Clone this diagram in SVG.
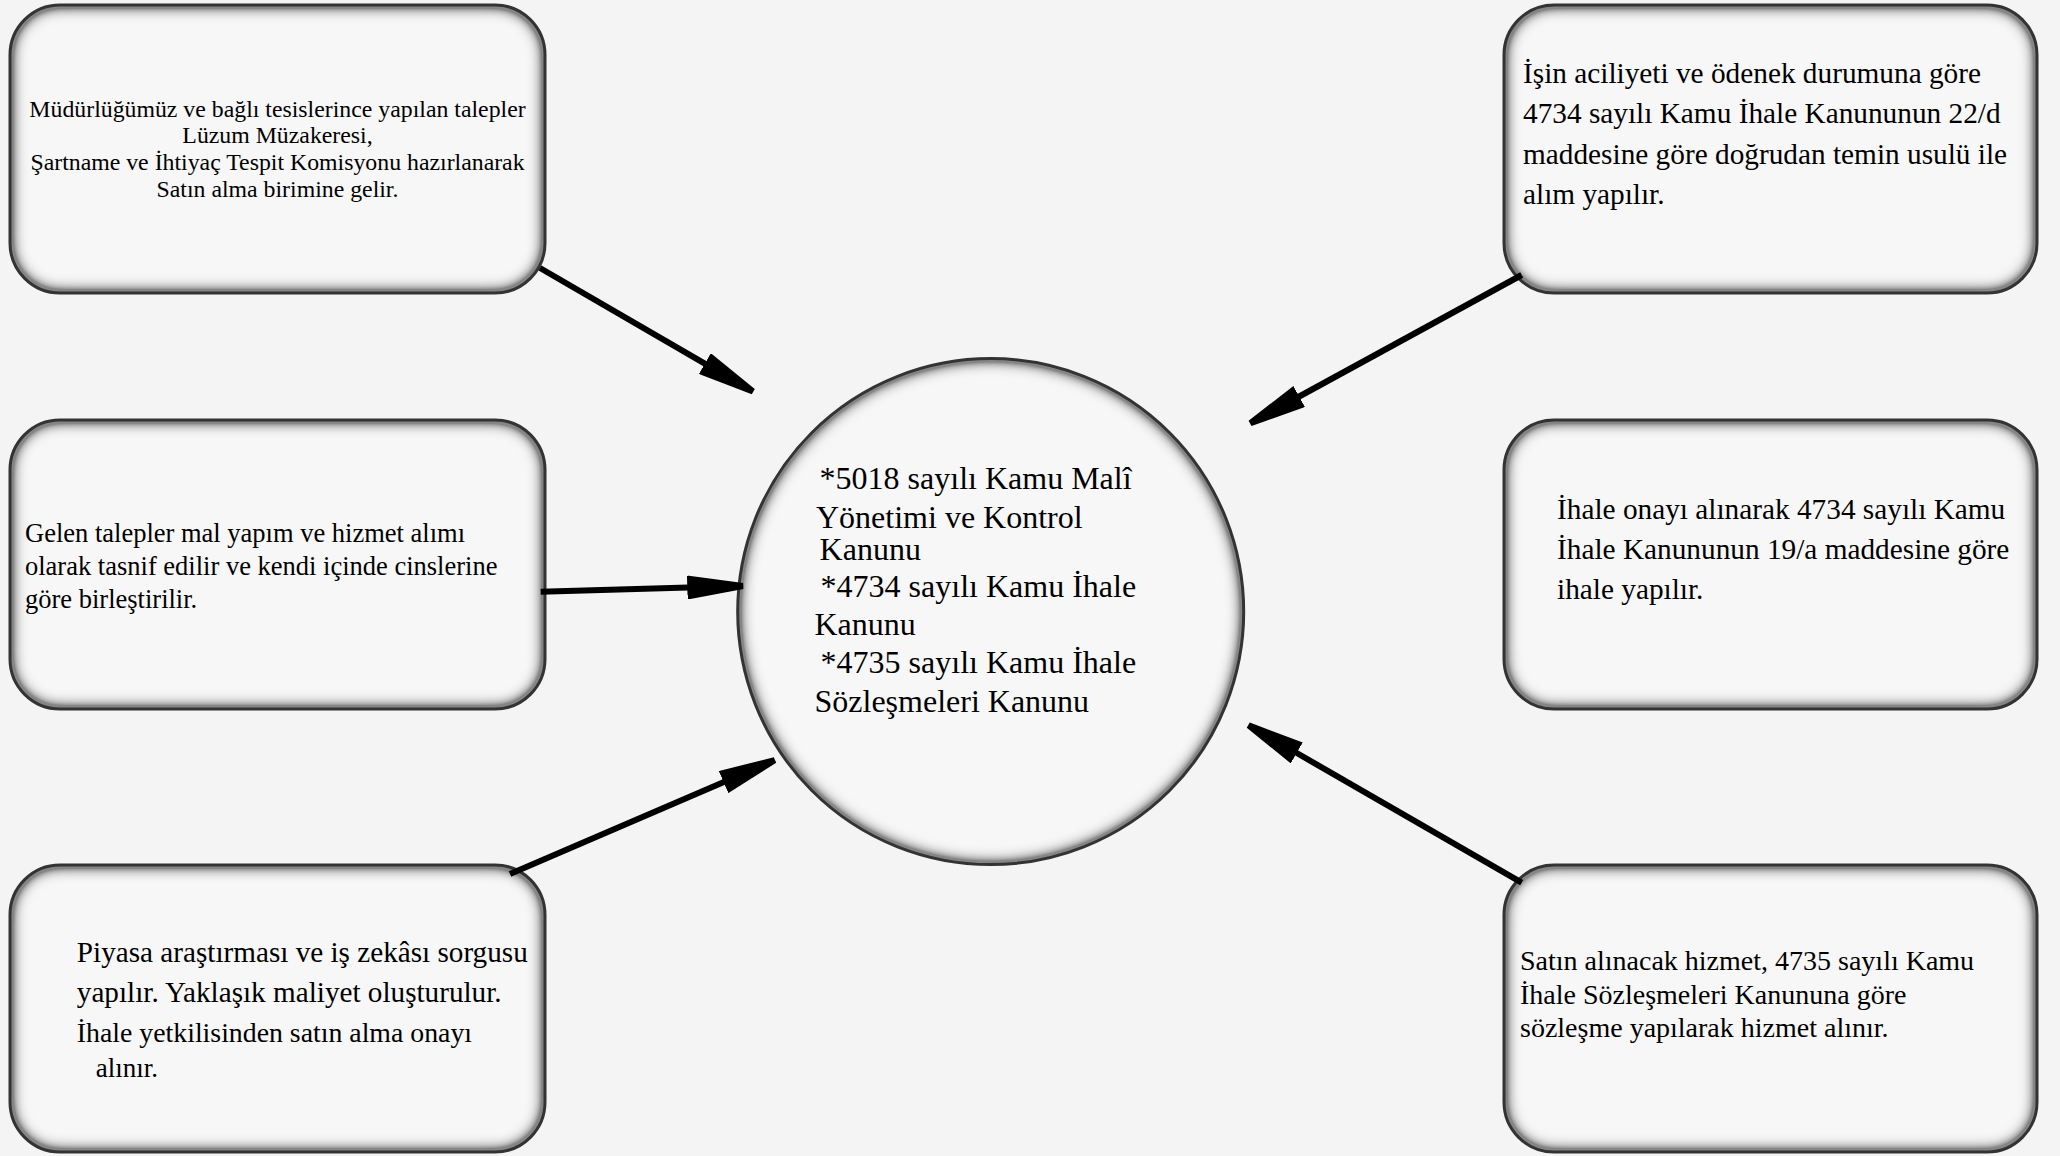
<svg xmlns="http://www.w3.org/2000/svg" width="2060" height="1156" viewBox="0 0 2060 1156">
  <style>
    .bg { fill: #f4f4f4; }
    .fill { fill: #f7f7f7; }
    .line { fill: none; stroke: #333333; stroke-width: 3; }
    .t { font-family: "Liberation Serif", "Times New Roman", serif; fill: #000; }
    .conn { stroke: #000; stroke-width: 6; fill: none; marker-end: url(#head); }
  </style>
  <defs>
    <filter id="inset" x="-5%" y="-5%" width="110%" height="110%">
      <feGaussianBlur in="SourceAlpha" stdDeviation="8" result="blur"/>
      <feComposite in="SourceAlpha" in2="blur" operator="arithmetic" k2="3" k3="-3" result="inv"/>
      <feFlood flood-color="#000" flood-opacity="0.75" result="col"/>
      <feComposite in="col" in2="inv" operator="in" result="shadow"/>
      <feMerge>
        <feMergeNode in="SourceGraphic"/>
        <feMergeNode in="shadow"/>
      </feMerge>
    </filter>
    <marker id="head" markerUnits="userSpaceOnUse" markerWidth="57" markerHeight="24" viewBox="0 0 57 24" refX="1" refY="12" orient="auto">
      <path d="M0,0 L56,9 L56,15 L0,24 Z" fill="#000"/>
    </marker>
  </defs>

  <rect class="bg" x="0" y="0" width="2060" height="1156"/>

  <g id="node-talep">
    <rect class="fill" x="10" y="5" width="535" height="288" rx="50" ry="50" filter="url(#inset)"/>
    <rect class="line" x="10" y="5" width="535" height="288" rx="50" ry="50"/>
    <g class="t" font-size="23.8" text-anchor="middle">
      <text x="277.5" y="116.7">Müdürlüğümüz ve bağlı tesislerince yapılan talepler</text>
      <text x="277.5" y="143.3">Lüzum Müzakeresi,</text>
      <text x="277.5" y="170">Şartname ve İhtiyaç Tespit Komisyonu hazırlanarak</text>
      <text x="277.5" y="197.3">Satın alma birimine gelir.</text>
    </g>
  </g>

  <g id="node-tasnif">
    <rect class="fill" x="10" y="420" width="535" height="289" rx="50" ry="50" filter="url(#inset)"/>
    <rect class="line" x="10" y="420" width="535" height="289" rx="50" ry="50"/>
    <g class="t" font-size="26.5">
      <text x="25" y="541.5">Gelen talepler mal yapım ve hizmet alımı</text>
      <text x="25" y="575">olarak tasnif edilir ve kendi içinde cinslerine</text>
      <text x="25" y="608">göre birleştirilir.</text>
    </g>
  </g>

  <g id="node-piyasa">
    <rect class="fill" x="10" y="865" width="535" height="287" rx="50" ry="50" filter="url(#inset)"/>
    <rect class="line" x="10" y="865" width="535" height="287" rx="50" ry="50"/>
    <g class="t">
      <text x="76.8" y="961.7" font-size="29.2">Piyasa araştırması ve iş zekâsı sorgusu</text>
      <text x="76.8" y="1001.7" font-size="29.2">yapılır. Yaklaşık maliyet oluşturulur.</text>
      <text x="76.8" y="1041.7" font-size="27.8">İhale yetkilisinden satın alma onayı</text>
      <text x="95.7" y="1076.7" font-size="27">alınır.</text>
    </g>
  </g>

  <g id="node-dogrudan">
    <rect class="fill" x="1504" y="5" width="533" height="288" rx="50" ry="50" filter="url(#inset)"/>
    <rect class="line" x="1504" y="5" width="533" height="288" rx="50" ry="50"/>
    <g class="t" font-size="29.3">
      <text x="1523" y="82.5">İşin aciliyeti ve ödenek durumuna göre</text>
      <text x="1523" y="123">4734 sayılı Kamu İhale Kanununun 22/d</text>
      <text x="1523" y="163.5">maddesine göre doğrudan temin usulü ile</text>
      <text x="1523" y="204">alım yapılır.</text>
    </g>
  </g>

  <g id="node-ihale">
    <rect class="fill" x="1504" y="420" width="533" height="289" rx="50" ry="50" filter="url(#inset)"/>
    <rect class="line" x="1504" y="420" width="533" height="289" rx="50" ry="50"/>
    <g class="t" font-size="29.3">
      <text x="1557" y="518.5">İhale onayı alınarak 4734 sayılı Kamu</text>
      <text x="1557" y="558.5">İhale Kanununun 19/a maddesine göre</text>
      <text x="1557" y="599">ihale yapılır.</text>
    </g>
  </g>

  <g id="node-sozlesme">
    <rect class="fill" x="1504" y="865" width="533" height="287" rx="50" ry="50" filter="url(#inset)"/>
    <rect class="line" x="1504" y="865" width="533" height="287" rx="50" ry="50"/>
    <g class="t" font-size="28">
      <text x="1520" y="970">Satın alınacak hizmet, 4735 sayılı Kamu</text>
      <text x="1520" y="1004">İhale Sözleşmeleri Kanununa göre</text>
      <text x="1520" y="1037.3">sözleşme yapılarak hizmet alınır.</text>
    </g>
  </g>

  <g id="node-kanunlar">
    <circle class="fill" cx="990.7" cy="611.6" r="253" filter="url(#inset)"/>
    <circle class="line" cx="990.7" cy="611.6" r="253"/>
    <g class="t" font-size="32">
      <text x="819.6" y="489">*5018 sayılı Kamu Malî</text>
      <text x="816" y="527.7">Yönetimi ve Kontrol</text>
      <text x="819.6" y="560">Kanunu</text>
      <text x="820.6" y="597.3">*4734 sayılı Kamu İhale</text>
      <text x="814.5" y="635">Kanunu</text>
      <text x="820.6" y="673.3">*4735 sayılı Kamu İhale</text>
      <text x="814.5" y="711.7">Sözleşmeleri Kanunu</text>
    </g>
  </g>

  <g id="connectors">
    <line class="conn" x1="540" y1="268" x2="705.7" y2="364.1"/>
    <line class="conn" x1="540.7" y1="591.7" x2="688.3" y2="587.5"/>
    <line class="conn" x1="510" y1="874" x2="724.5" y2="781.7"/>
    <line class="conn" x1="1521.7" y1="275" x2="1298.3" y2="397"/>
    <line class="conn" x1="1521.7" y1="882.7" x2="1295.9" y2="752.5"/>
  </g>
</svg>
